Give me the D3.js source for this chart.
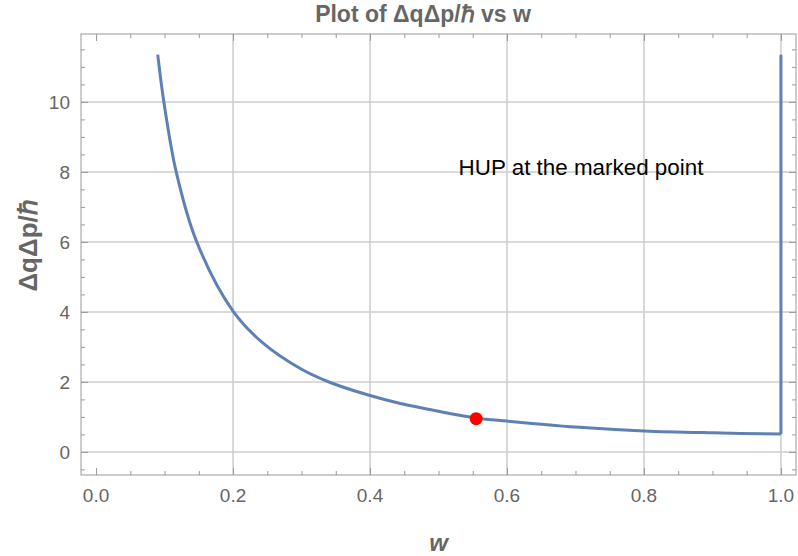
<!DOCTYPE html>
<html>
<head>
<meta charset="utf-8">
<script src="https://cdn.jsdelivr.net/npm/d3@7"></script>
<style>
  body { margin: 0; background: #fff; }
  svg { display: block; }
  text { font-family: "Liberation Sans", Arial, sans-serif; }
</style>
</head>
<body>
<svg id="chart" width="798" height="556"></svg>
<script>
// ---- data ----
const wValues   = [0.090, 0.099, 0.117, 0.147, 0.200, 0.243, 0.300, 0.341, 0.400, 0.443, 0.500, 0.555, 0.600, 0.700, 0.800, 0.900, 1.000];
const hupValues = [11.35, 10.00, 8.00,  6.00,  4.02,  3.12,  2.36,  1.99,  1.61,  1.39,  1.16,  0.97,  0.88,  0.71,  0.60,  0.545, 0.51];
const jumpW = [1.0, 1.0];
const jumpValues = [0.51, 11.35];
const markedPoint = [0.555, 0.95];
const xTicks = [0.0, 0.2, 0.4, 0.6, 0.8, 1.0];
const yTicks = [0, 2, 4, 6, 8, 10];
const xGrid = [0.2, 0.4, 0.6, 0.8, 1.0];
const yGrid = [0, 2, 4, 6, 8, 10];
const titleText = "Plot of ΔqΔp/ℏ vs w";
const xLabel = "w";
const yLabel = "ΔqΔp/ℏ";
const annotation = "HUP at the marked point";

// ---- layout ----
const pLeft = 81, pRight = 796, pTop = 34, pBottom = 475;
const svg = d3.select("#chart");
const x = d3.scaleLinear().domain([-0.022, 1.022]).range([pLeft, pRight]);
const y = d3.scaleLinear().domain([-0.66, 11.94]).range([pBottom, pTop]);
const gray = "#666666";
const frameGray = "#999999";

// grid lines
svg.append("g").selectAll("line").data(xGrid).join("line")
  .attr("x1", d => x(d)).attr("x2", d => x(d))
  .attr("y1", pTop).attr("y2", pBottom)
  .attr("stroke", "#cccccc").attr("stroke-width", 1.5);
svg.append("g").selectAll("line").data(yGrid).join("line")
  .attr("y1", d => y(d)).attr("y2", d => y(d))
  .attr("x1", pLeft).attr("x2", pRight)
  .attr("stroke", "#cccccc").attr("stroke-width", 1.5);

// frame ticks (major + minor) on all four sides, pointing inward
const xMinor = d3.range(0, 21).map(i => i * 0.05).filter(v => !xTicks.some(t => Math.abs(t - v) < 1e-9));
const yMinor = d3.range(-1, 24).map(i => i * 0.5).filter(v => v >= -0.66 && v <= 11.94 && !yTicks.some(t => Math.abs(t - v) < 1e-9));

function xAxisTicks(yPos, dir) {
  const gA = svg.append("g")
    .attr("transform", `translate(0,${yPos})`)
    .call(d3.axisBottom(x).tickValues(xTicks).tickSizeInner(dir * 7).tickSizeOuter(0).tickFormat(""));
  gA.select(".domain").remove();
  gA.selectAll("line").attr("stroke", frameGray);
  const gB = svg.append("g")
    .attr("transform", `translate(0,${yPos})`)
    .call(d3.axisBottom(x).tickValues(xMinor).tickSizeInner(dir * 4).tickSizeOuter(0).tickFormat(""));
  gB.select(".domain").remove();
  gB.selectAll("line").attr("stroke", frameGray);
}
function yAxisTicks(xPos, dir) {
  const gA = svg.append("g")
    .attr("transform", `translate(${xPos},0)`)
    .call(d3.axisLeft(y).tickValues(yTicks).tickSizeInner(dir * 7).tickSizeOuter(0).tickFormat(""));
  gA.select(".domain").remove();
  gA.selectAll("line").attr("stroke", frameGray);
  const gB = svg.append("g")
    .attr("transform", `translate(${xPos},0)`)
    .call(d3.axisLeft(y).tickValues(yMinor).tickSizeInner(dir * 4).tickSizeOuter(0).tickFormat(""));
  gB.select(".domain").remove();
  gB.selectAll("line").attr("stroke", frameGray);
}
xAxisTicks(pBottom, -1);
xAxisTicks(pTop, 1);
yAxisTicks(pLeft, -1);
yAxisTicks(pRight, 1);

// frame
svg.append("rect").attr("x", pLeft).attr("y", pTop)
  .attr("width", pRight - pLeft).attr("height", pBottom - pTop)
  .attr("fill", "none").attr("stroke", frameGray).attr("stroke-width", 1);

// tick labels
svg.append("g").selectAll("text").data(xTicks).join("text")
  .attr("x", d => x(d)).attr("y", pBottom + 27)
  .attr("text-anchor", "middle").attr("fill", gray)
  .attr("font-size", 19)
  .text(d => d3.format(".1f")(d));
svg.append("g").selectAll("text").data(yTicks).join("text")
  .attr("x", pLeft - 11).attr("y", d => y(d)).attr("dy", "0.35em")
  .attr("text-anchor", "end").attr("fill", gray)
  .attr("font-size", 19)
  .text(d => d);

// curve
const pts = wValues.map((w, i) => [w, hupValues[i]]);
svg.append("path").datum(pts)
  .attr("fill", "none").attr("stroke", "#5E81B5").attr("stroke-width", 3)
  .attr("d", d3.line().x(d => x(d[0])).y(d => y(d[1])).curve(d3.curveCatmullRom.alpha(0.5)));
svg.append("path").datum(jumpW.map((w, i) => [w, jumpValues[i]]))
  .attr("fill", "none").attr("stroke", "#5E81B5").attr("stroke-width", 3)
  .attr("d", d3.line().x(d => x(d[0])).y(d => y(d[1])));

// marked point
svg.append("circle").attr("cx", x(markedPoint[0])).attr("cy", y(markedPoint[1]))
  .attr("r", 6.5).attr("fill", "#ff0000");

// annotation
svg.append("text").attr("x", 581).attr("y", 175)
  .attr("text-anchor", "middle").attr("fill", "#000").attr("font-size", 22.4)
  .text(annotation);

// title
svg.append("text").attr("x", 423).attr("y", 22)
  .attr("text-anchor", "middle").attr("fill", gray)
  .attr("font-size", 23).attr("font-weight", "bold")
  .text(titleText);

// axis labels
svg.append("text").attr("x", (pLeft + pRight) / 2).attr("y", 551)
  .attr("text-anchor", "middle").attr("fill", gray)
  .attr("font-size", 24).attr("font-weight", "bold").attr("font-style", "italic")
  .text(xLabel);
svg.append("text")
  .attr("transform", `translate(37,${y(5.9)}) rotate(-90)`)
  .attr("text-anchor", "middle").attr("fill", gray)
  .attr("font-size", 26).attr("font-weight", "bold")
  .text(yLabel);
</script>
</body>
</html>
